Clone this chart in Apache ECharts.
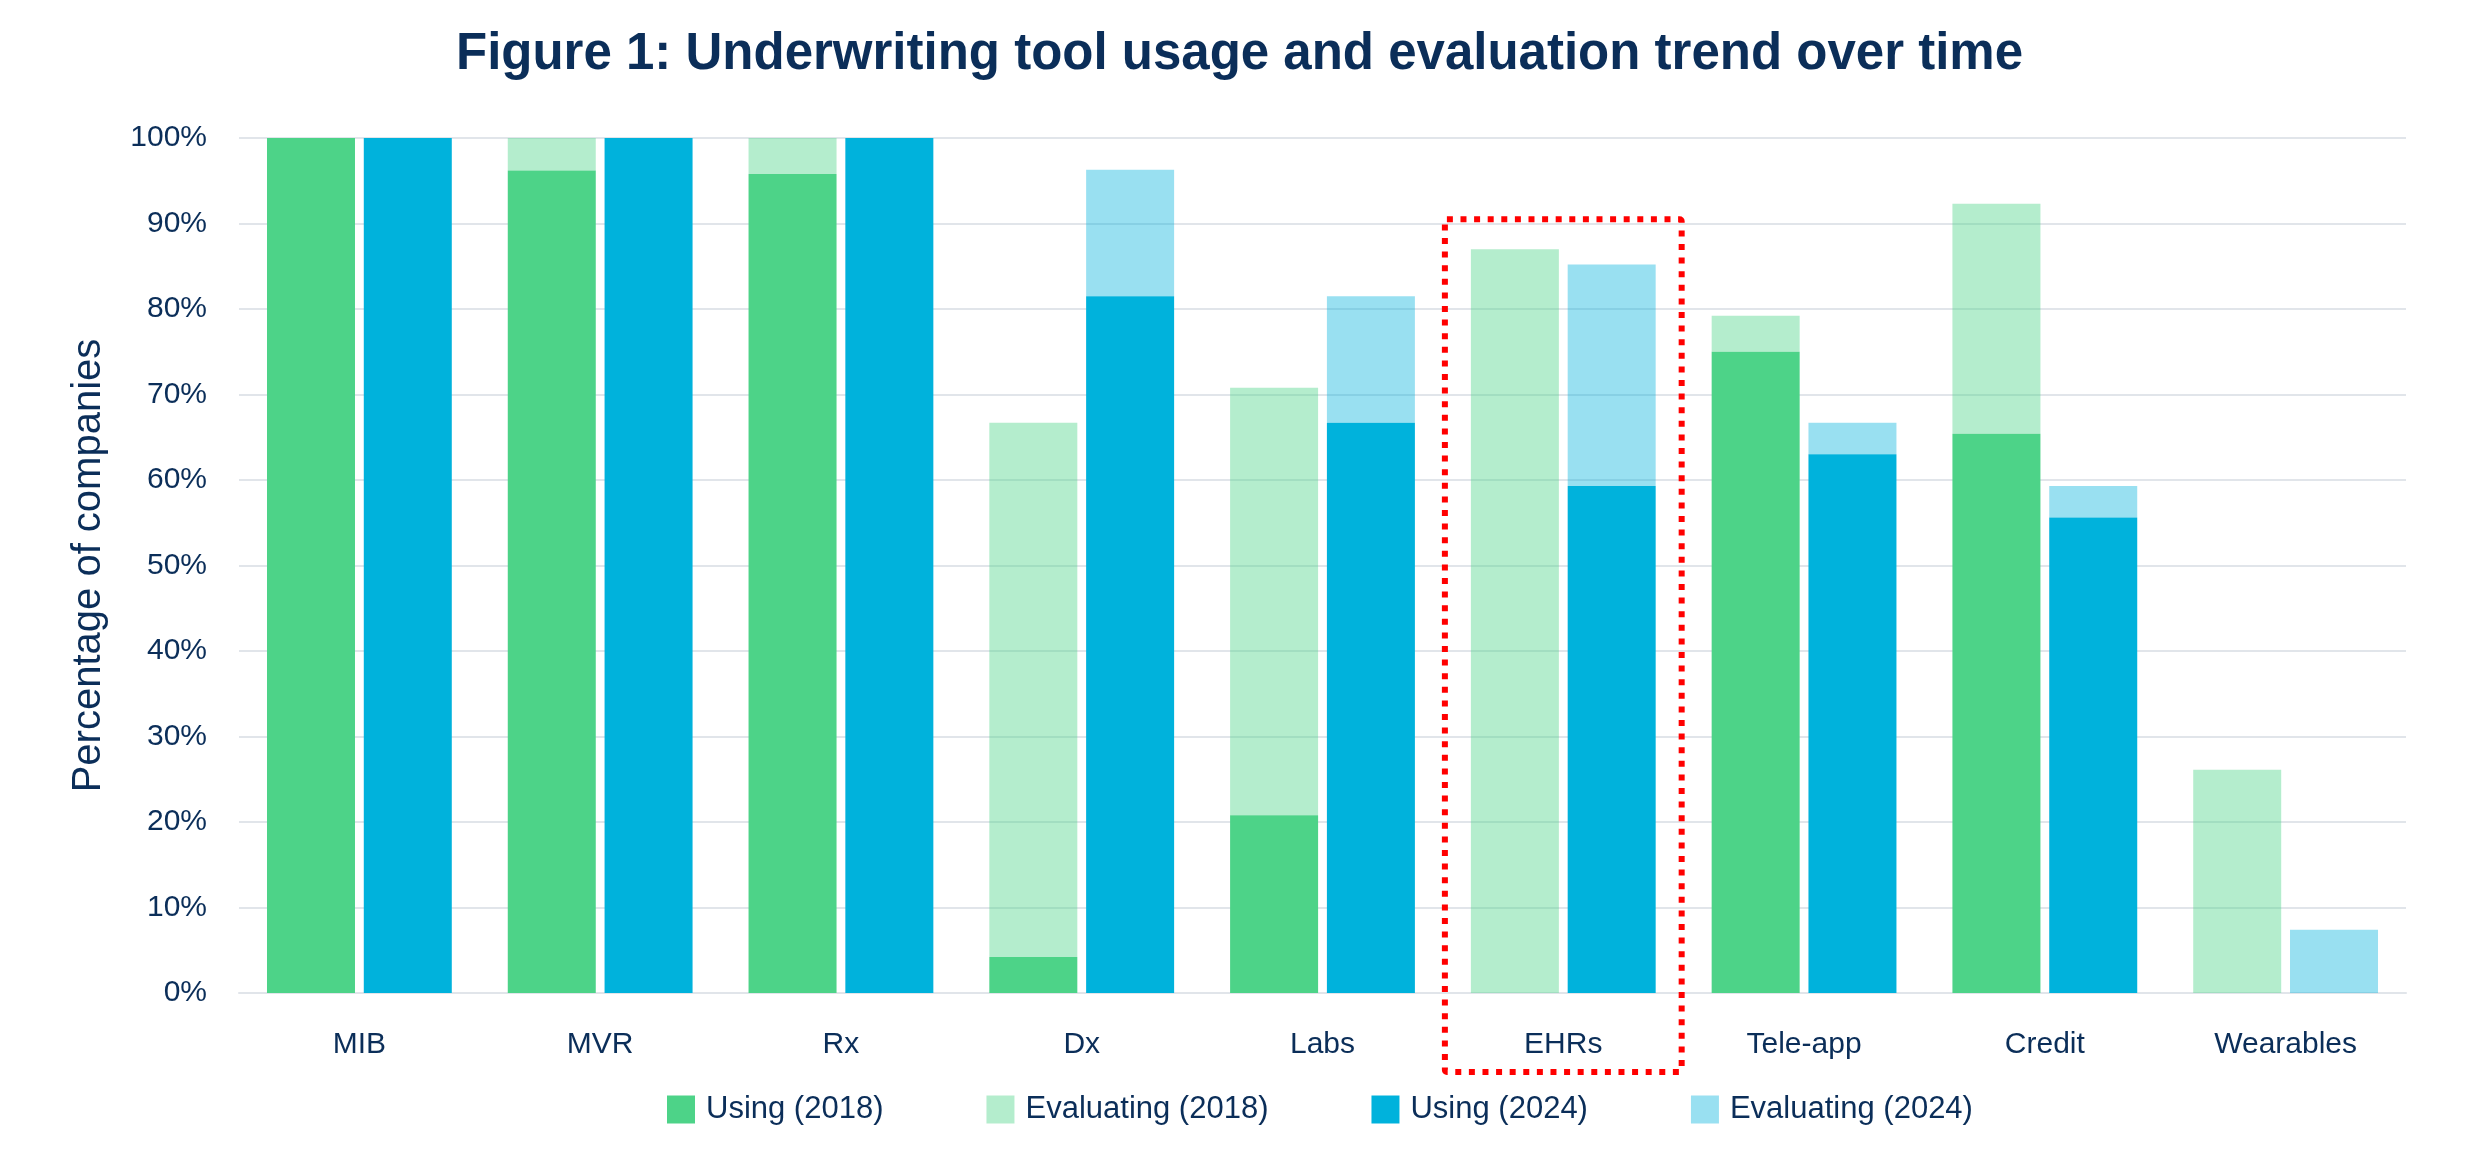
<!DOCTYPE html>
<html>
<head>
<meta charset="utf-8">
<script src="https://cdn.jsdelivr.net/npm/echarts@6/dist/echarts.min.js"></script>
<style>
html,body{margin:0;padding:0;background:#fff;}
#chart{width:2479px;height:1150px;}
</style>
</head>
<body>
<div id="chart"></div>
<script>
// ---- data ----
const categories = ['MIB','MVR','Rx','Dx','Labs','EHRs','Tele-app','Credit','Wearables'];
const using2018 = [100, 96.2, 95.8, 4.2, 20.8, 0, 75, 65.4, 0];
const evaluating2018 = [0, 3.8, 4.2, 62.5, 50, 87, 4.2, 26.9, 26.1];
const using2024 = [100, 100, 100, 81.5, 66.7, 59.3, 63, 55.6, 0];
const evaluating2024 = [0, 0, 0, 14.8, 14.8, 25.9, 3.7, 3.7, 7.4];
const yTicks = [0,10,20,30,40,50,60,70,80,90,100];
const highlightCategory = 'EHRs';
const highlightTop = 90.5;

const NAVY = '#0B2E59';
const FONT = '"Liberation Sans", Arial, sans-serif';

const chart = echarts.init(document.getElementById('chart'));

function barSeries(name, data, stack, color) {
  return {
    name: name, type: 'bar', stack: stack, data: data,
    barWidth: 88, barGap: '10%',
    itemStyle: { color: color },
    emphasis: { disabled: true }
  };
}

chart.setOption({
  animation: false,
  backgroundColor: '#ffffff',
  title: {
    text: 'Figure 1: Underwriting tool usage and evaluation trend over time',
    left: 'center', top: 24,
    textStyle: { fontFamily: FONT, fontWeight: 'bold', fontSize: 51, color: NAVY }
  },
  legend: {
    left: 667, top: 1094, padding: 0,
    itemWidth: 28, itemHeight: 28, itemGap: 103,
    icon: 'rect',
    textStyle: { fontFamily: FONT, fontSize: 31, color: NAVY, padding: [0,0,0,6] },
    data: ['Using (2018)','Evaluating (2018)','Using (2024)','Evaluating (2024)']
  },
  grid: { left: 239, right: 73, top: 138, bottom: 157, containLabel: false },
  xAxis: {
    type: 'category', data: categories,
    axisLine: { show: true, lineStyle: { color: '#E1E5EA', width: 2 } },
    axisTick: { show: false },
    axisLabel: { fontFamily: FONT, fontSize: 30, color: NAVY, margin: 37 }
  },
  yAxis: {
    type: 'value', min: yTicks[0], max: yTicks[yTicks.length-1], interval: 10,
    name: 'Percentage of companies', nameLocation: 'middle', nameGap: 130,
    nameTextStyle: { fontFamily: FONT, fontSize: 40, color: NAVY },
    axisLine: { show: false }, axisTick: { show: false },
    axisLabel: { fontFamily: FONT, fontSize: 30, color: NAVY, margin: 32, formatter: '{value}%' },
    splitLine: { lineStyle: { color: '#E1E5EA', width: 2 } }
  },
  series: [
    barSeries('Using (2018)', using2018, 's2018', 'rgb(77,211,136)'),
    barSeries('Evaluating (2018)', evaluating2018, 's2018', 'rgba(77,211,136,0.42)'),
    barSeries('Using (2024)', using2024, 's2024', 'rgb(0,178,220)'),
    barSeries('Evaluating (2024)', evaluating2024, 's2024', 'rgba(0,178,220,0.40)')
  ]
});

// dotted highlight frame around a category, positioned via the axes
const idx = categories.indexOf(highlightCategory);
const xc = chart.convertToPixel({xAxisIndex: 0}, idx);
const band = chart.convertToPixel({xAxisIndex: 0}, idx + 1) - xc;
const yTop = chart.convertToPixel({yAxisIndex: 0}, highlightTop);
const yZero = chart.convertToPixel({yAxisIndex: 0}, 0);
chart.setOption({
  graphic: [{
    type: 'rect', silent: true, z: 100,
    shape: { x: xc - band/2 + 2, y: yTop, width: band - 4, height: (yZero + 79) - yTop, r: 2 },
    style: { fill: 'none', stroke: '#FF0000', lineWidth: 6, lineDash: [6, 7.6] }
  }]
});
</script>
</body>
</html>
